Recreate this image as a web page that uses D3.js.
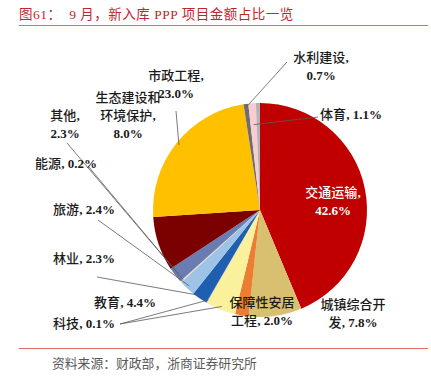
<!DOCTYPE html>
<html>
<head>
<meta charset="utf-8">
<script src="https://cdn.jsdelivr.net/npm/d3@7"></script>
<style>
  body { margin: 0; background: #fff; }
  svg text { font-family: "Liberation Serif", "Noto Sans CJK SC", serif; }
</style>
</head>
<body>
<div id="chart"></div>
<script>
const width = 431,
      height = 380;

// slices, clockwise from 12 o'clock
const categories = ["交通运输", "城镇综合开发", "保障性安居工程", "教育", "科技", "林业", "旅游",
                    "能源", "其他", "生态建设和环境保护", "市政工程", "水利建设", "体育", ""];
const values = [42.6, 7.8, 2.0, 4.4, 0.1, 2.3, 2.4, 0.2, 2.3, 8.0, 23.0, 0.7, 1.1, 0.6];
const colors = ["#c00000", "#d9c070", "#ed7d31", "#fbf09c", "#bfbfbf", "#1f5fb0", "#9dc3e6",
                "#f4d7c4", "#6a7db2", "#7b0000", "#ffc000", "#6e6e6e", "#f8ccd3", "#b4b4b4"];

// label layout: slice index, break points in "name, v%", centre x, first baseline, leader start
const labelLayout = [
  {i: 0, breaks: [5], x: 333, y: 197, fill: "#fff"},
  {i: 1, breaks: [5], x: 353, y: 309},
  {i: 2, breaks: [5], x: 262, y: 307},
  {i: 3, breaks: [], x: 125, y: 307, from: [120, 324]},
  {i: 4, breaks: [], x: 84, y: 328, from: [120, 324]},
  {i: 5, breaks: [], x: 84, y: 263, from: [97, 277]},
  {i: 6, breaks: [], x: 84, y: 214, from: [98, 220]},
  {i: 7, breaks: [], x: 66, y: 168, from: [88, 166]},
  {i: 8, breaks: [3], x: 65, y: 120, from: [67, 143]},
  {i: 9, breaks: [5, 10], x: 128, y: 102},
  {i: 10, breaks: [5], x: 176, y: 80, from: [176, 111]},
  {i: 11, breaks: [5], x: 321, y: 62, from: [287, 62]},
  {i: 12, breaks: [], x: 351, y: 119, from: [318, 117], r: 0.8}
];

const svg = d3.select("#chart")
  .append("svg")
  .attr("width", width)
  .attr("height", height);

// title
svg.append("text")
  .attr("x", 19)
  .attr("y", 19)
  .attr("font-size", "13.5px")
  .attr("letter-spacing", "0.5px")
  .attr("fill", "#c0272d")
  .style("white-space", "pre")
  .text("图61：  9 月，新入库 PPP 项目金额占比一览");

svg.append("line")
  .attr("x1", 19).attr("x2", 428)
  .attr("y1", 25.5).attr("y2", 25.5)
  .attr("stroke", "#e06a6a")
  .attr("stroke-width", 1);

svg.append("line")
  .attr("x1", 19).attr("x2", 428)
  .attr("y1", 348.5).attr("y2", 348.5)
  .attr("stroke", "#e06a6a")
  .attr("stroke-width", 1);

svg.append("text")
  .attr("x", 52)
  .attr("y", 368)
  .attr("font-size", "12.8px")
  .attr("fill", "#595959")
  .text("资料来源：财政部，浙商证券研究所");

// pie
const cx = 260, cy = 210, radius = 107;

const pie = d3.pie().sort(null).value(d => d);
const arcs = pie(values);
const arc = d3.arc().innerRadius(0).outerRadius(radius);

const g = svg.append("g")
  .attr("transform", `translate(${cx},${cy})`);

g.selectAll("path")
  .data(arcs)
  .enter()
  .append("path")
  .attr("d", arc)
  .attr("fill", (d, i) => colors[i]);

// leader lines
labelLayout.filter(d => d.from).forEach(d => {
  const a = arcs[d.i];
  const mid = (a.startAngle + a.endAngle) / 2;
  const r = radius * (d.r || 0.97);
  const px = cx + Math.sin(mid) * r,
        py = cy - Math.cos(mid) * r;
  svg.append("line")
    .attr("x1", d.from[0]).attr("y1", d.from[1])
    .attr("x2", px).attr("y2", py)
    .attr("stroke", "#595959")
    .attr("stroke-width", 0.8);
});

// labels: CJK runs a bit lighter than the bold latin digits
const cjk = /[\u3000-\u9fff\uff00-\uffef]/;
function runs(s) {
  const out = [];
  for (const ch of s) {
    const isC = cjk.test(ch);
    if (out.length && out[out.length - 1].c === isC) out[out.length - 1].s += ch;
    else out.push({s: ch, c: isC});
  }
  return out;
}

labelLayout.forEach(d => {
  const full = `${categories[d.i]}, ${values[d.i].toFixed(1)}%`;
  const cuts = [0, ...d.breaks, full.length];
  const lines = [];
  for (let k = 0; k < cuts.length - 1; k++) lines.push(full.slice(cuts[k], cuts[k + 1]).trim());

  const t = svg.append("text")
    .attr("text-anchor", "middle")
    .attr("font-size", "13px")
    .attr("fill", d.fill || "#1a1a1a")
    .style("white-space", "pre");

  lines.forEach((s, k) => {
    const line = t.append("tspan")
      .attr("x", d.x)
      .attr("y", d.y + k * 18);
    runs(s).forEach(r => {
      line.append("tspan")
        .attr("font-weight", r.c ? 500 : "bold")
        .text(r.s);
    });
  });
});
</script>
</body>
</html>
